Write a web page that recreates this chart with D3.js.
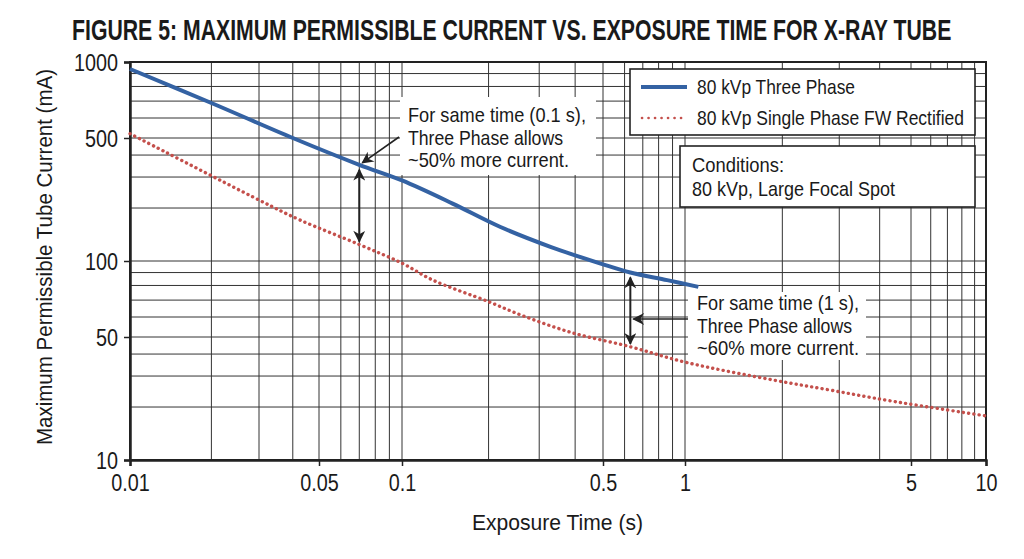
<!DOCTYPE html>
<html>
<head>
<meta charset="utf-8">
<script src="https://cdn.jsdelivr.net/npm/d3@7"></script>
<style>
  body { margin: 0; background: #fff; }
  svg text { font-family: "Liberation Sans", Arial, Helvetica, sans-serif; fill: #1a1a1a; }
</style>
</head>
<body>
<svg id="chart" width="1024" height="559"></svg>
<script>
// values
const threePhaseTime = [0.01, 0.02, 0.04, 0.07, 0.1, 0.15, 0.22, 0.33, 0.5, 0.63, 0.86, 1.1];
const threePhaseCurrent = [938, 688, 500, 352, 287, 212, 156, 120, 97, 90, 84, 79];
const singlePhaseTime = [0.01, 0.03, 0.0425, 0.07, 0.1, 0.128, 0.2, 0.26, 0.39, 0.63, 1, 1.87, 2.8, 4.3, 10];
const singlePhaseCurrent = [520, 222, 171, 124, 98, 84, 69, 61, 52, 44, 36, 28.5, 25, 21.7, 17.8];
const xTicks = [0.01, 0.05, 0.1, 0.5, 1, 5, 10];
const yTicks = [10, 50, 100, 500, 1000];
const seriesNames = ["80 kVp Three Phase", "80 kVp Single Phase FW Rectified"];
const notes = [
  {time: 0.07, upper: 352, lower: 124, lines: ["For same time (0.1 s),", "Three Phase allows", "~50% more current."]},
  {time: 0.63, upper: 90, lower: 44, lines: ["For same time (1 s),", "Three Phase allows", "~60% more current."]}
];

const svg = d3.select("#chart");
const blue = "#3462a3", red = "#c4504c", ink = "#222";

// squeeze a text to the condensed width seen in the figure
function fit(sel, w) {
  sel.each(function (d, i) {
    const target = typeof w === "function" ? w(d, i) : w;
    d3.select(this).attr("textLength", target).attr("lengthAdjust", "spacingAndGlyphs");
  });
}
function condense(sel, k) {
  sel.each(function () {
    const l = this.getComputedTextLength();
    d3.select(this).attr("textLength", l * k).attr("lengthAdjust", "spacingAndGlyphs");
  });
}

// the printed grid is not a strict log grid, so map the labelled values piecewise
const x = d3.scaleLog().domain(xTicks).range([130, 319, 402, 603, 685, 911, 986]);
const y = d3.scaleLog().domain(yTicks).range([460, 337, 261, 138, 62]);

// minor + major grid
const xGrid = [];
for (let d = 0.01; d < 10; d *= 10) for (let k = 1; k <= 10; k++) xGrid.push(+(d * k).toPrecision(3));
const yGrid = [];
for (let d = 10; d < 1000; d *= 10) for (let k = 1; k <= 10; k++) yGrid.push(d * k);

const grid = svg.append("g").attr("stroke", "#333").attr("stroke-width", 1);
grid.selectAll(".vx").data([...new Set(xGrid)]).enter().append("line")
  .attr("x1", d => x(d)).attr("x2", d => x(d)).attr("y1", y(1000)).attr("y2", y(10));
grid.selectAll(".hy").data([...new Set(yGrid)]).enter().append("line")
  .attr("x1", x(0.01)).attr("x2", x(10)).attr("y1", d => y(d)).attr("y2", d => y(d));

// frame
svg.append("rect").attr("x", x(0.01)).attr("y", y(1000))
  .attr("width", x(10) - x(0.01)).attr("height", y(10) - y(1000))
  .attr("fill", "none").attr("stroke", ink).attr("stroke-width", 2);

// axes
const xAxis = svg.append("g").attr("transform", `translate(0,${y(10)})`)
  .call(d3.axisBottom(x).tickValues(xTicks).tickFormat(d => String(d)).tickSize(6).tickPadding(9));
const yAxis = svg.append("g").attr("transform", `translate(${x(0.01)},0)`)
  .call(d3.axisLeft(y).tickValues(yTicks).tickFormat(d => String(d)).tickSize(6).tickPadding(6));
[xAxis, yAxis].forEach(a => {
  a.select(".domain").attr("stroke", ink).attr("stroke-width", 2.5);
  a.selectAll(".tick line").attr("stroke", ink).attr("stroke-width", 1.5);
  a.selectAll(".tick text").attr("font-size", 23).attr("fill", "#1a1a1a")
    .attr("font-family", '"Liberation Sans", Arial, sans-serif');
  condense(a.selectAll(".tick text"), 0.86);
});
yAxis.selectAll(".tick text").attr("dy", "0.36em");

// annotation backgrounds (text sits on white over the grid)
const noteBoxes = [[400, 97, 196, 78], [688, 292, 178, 68]];
svg.selectAll(".notebg").data(noteBoxes).enter().append("rect")
  .attr("x", d => d[0]).attr("y", d => d[1]).attr("width", d => d[2]).attr("height", d => d[3])
  .attr("fill", "#fff");

// curves
const line = d3.line().x(d => x(d[0])).y(d => y(d[1])).curve(d3.curveCatmullRom.alpha(0.5));
svg.append("path").datum(singlePhaseTime.map((t, i) => [t, singlePhaseCurrent[i]]))
  .attr("d", line).attr("fill", "none").attr("stroke", red)
  .attr("stroke-width", 3.4).attr("stroke-dasharray", "0.1 5.2").attr("stroke-linecap", "round");
svg.append("path").datum(threePhaseTime.map((t, i) => [t, threePhaseCurrent[i]]))
  .attr("d", line).attr("fill", "none").attr("stroke", blue)
  .attr("stroke-width", 4).attr("stroke-linecap", "butt");

// arrow markers
const defs = svg.append("defs");
defs.append("marker").attr("id", "bighead").attr("viewBox", "0 0 10 10")
  .attr("refX", 9).attr("refY", 5).attr("markerWidth", 14).attr("markerHeight", 12)
  .attr("markerUnits", "userSpaceOnUse").attr("orient", "auto-start-reverse")
  .append("path").attr("d", "M0,0 L10,5 L0,10 L3,5 z").attr("fill", ink);

// vertical double arrows between the curves
svg.selectAll(".span").data(notes).enter().append("line")
  .attr("x1", d => x(d.time)).attr("x2", d => x(d.time))
  .attr("y1", d => y(d.upper) + 5).attr("y2", d => y(d.lower) - 3)
  .attr("stroke", ink).attr("stroke-width", 2)
  .attr("marker-start", "url(#bighead)").attr("marker-end", "url(#bighead)");

// pointer arrows from the notes
svg.append("line").attr("x1", 399).attr("y1", 137)
  .attr("x2", x(notes[0].time) + 3).attr("y2", y(notes[0].upper) - 2)
  .attr("stroke", ink).attr("stroke-width", 1.6).attr("marker-end", "url(#bighead)");
svg.append("line").attr("x1", 688).attr("y1", 319)
  .attr("x2", x(notes[1].time) + 3).attr("y2", 319)
  .attr("stroke", ink).attr("stroke-width", 1.6).attr("marker-end", "url(#bighead)");

// note text
const notePos = [[408, 115], [697, 303]];
const noteWidths = [[178, 155, 161], [162, 155, 162]];
notes.forEach((n, i) => {
  const t = svg.append("text").attr("x", notePos[i][0]).attr("y", notePos[i][1]).attr("font-size", 21)
    .selectAll("tspan").data(n.lines).enter().append("tspan")
    .attr("x", notePos[i][0]).attr("dy", (d, j) => j === 0 ? "0.35em" : 22.5).text(d => d);
  fit(t, (d, j) => noteWidths[i][j]);
});

// legend
const lg = svg.append("g");
lg.append("rect").attr("x", 630).attr("y", 69).attr("width", 345).attr("height", 66)
  .attr("fill", "#fff").attr("stroke", ink).attr("stroke-width", 1.6);
lg.append("line").attr("x1", 641).attr("x2", 687).attr("y1", 87).attr("y2", 87)
  .attr("stroke", blue).attr("stroke-width", 4);
lg.append("line").attr("x1", 642).attr("x2", 687).attr("y1", 118).attr("y2", 118)
  .attr("stroke", red).attr("stroke-width", 2.6).attr("stroke-dasharray", "0.1 6.4").attr("stroke-linecap", "round");
const legendWidths = [158, 267];
fit(lg.selectAll(".lt").data(seriesNames).enter().append("text")
  .attr("x", 697).attr("y", (d, i) => 87 + i * 31).attr("dy", "0.35em").attr("font-size", 21).text(d => d),
  (d, i) => legendWidths[i]);

const cond = svg.append("g");
cond.append("rect").attr("x", 680).attr("y", 146).attr("width", 295).attr("height", 61)
  .attr("fill", "#fff").attr("stroke", ink).attr("stroke-width", 1.6);
const condWidths = [92, 203];
fit(cond.selectAll("text").data(["Conditions:", "80 kVp, Large Focal Spot"]).enter().append("text")
  .attr("x", 692).attr("y", (d, i) => 165 + i * 24).attr("dy", "0.35em").attr("font-size", 21).text(d => d),
  (d, i) => condWidths[i]);

// title: squeeze horizontally with a transform so its box stays inside the page
const title = svg.append("text").attr("dy", "0.35em")
  .attr("font-size", 29).attr("font-weight", "bold")
  .text("FIGURE 5: MAXIMUM PERMISSIBLE CURRENT VS. EXPOSURE TIME FOR X-RAY TUBE");
const titleLen = title.node().getComputedTextLength();
title.attr("transform", `translate(72,30) scale(${880 / titleLen},1)`);

svg.append("text").attr("x", 472).attr("y", 522).attr("dy", "0.35em")
  .attr("font-size", 22).attr("textLength", 171).attr("lengthAdjust", "spacingAndGlyphs")
  .text("Exposure Time (s)");
svg.append("text").attr("transform", "translate(44,445) rotate(-90)").attr("dy", "0.35em")
  .attr("font-size", 22).attr("textLength", 376).attr("lengthAdjust", "spacingAndGlyphs")
  .text("Maximum Permissible Tube Current (mA)");
</script>
</body>
</html>
